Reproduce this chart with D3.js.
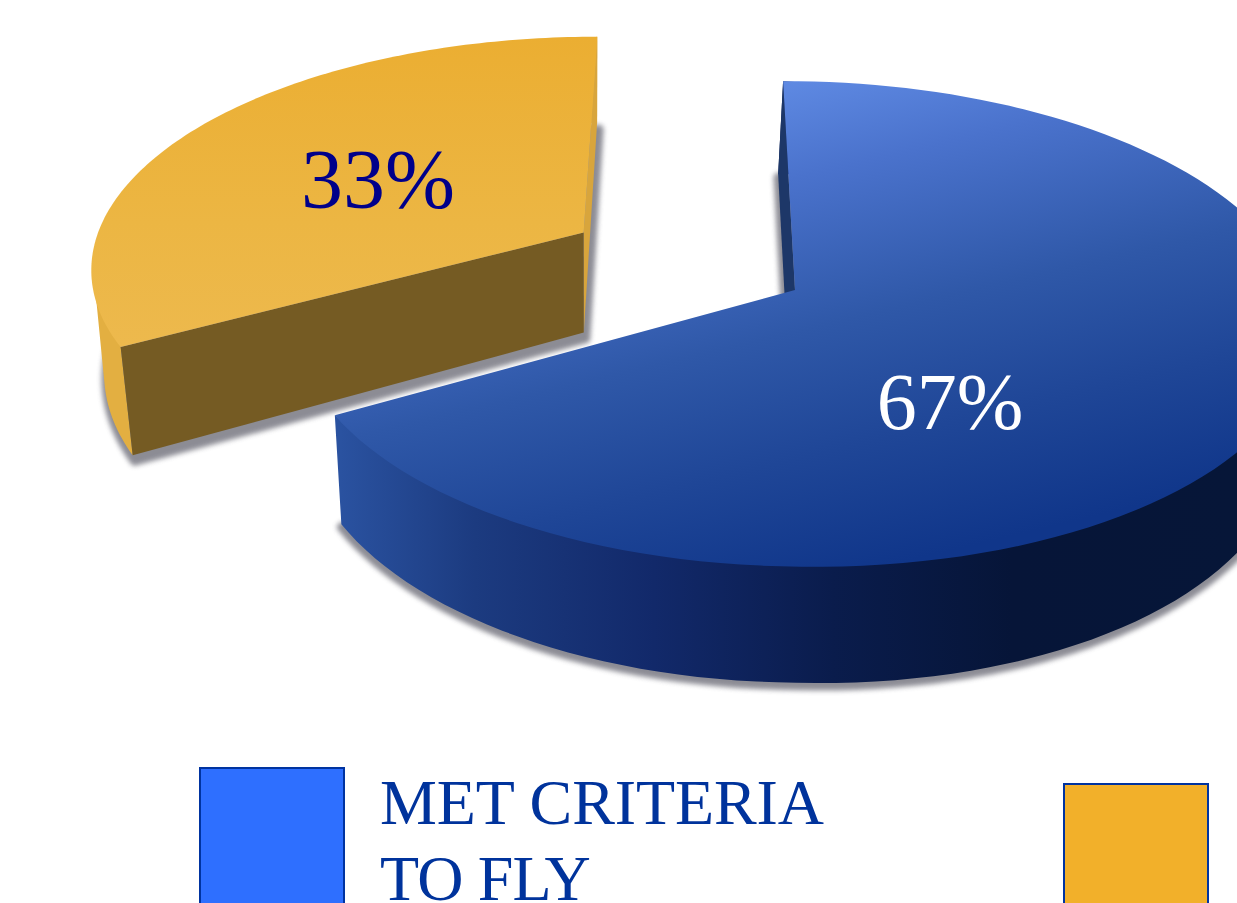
<!DOCTYPE html>
<html>
<head>
<meta charset="utf-8">
<script src="https://cdn.jsdelivr.net/npm/d3@7"></script>
<style>
  html, body { margin: 0; padding: 0; background: #fff; overflow: hidden; }
  svg { display: block; }
  text { font-family: "Liberation Serif", serif; }
</style>
</head>
<body>
<svg id="chart" width="1237" height="903"></svg>
<script>
// Share of flights by outcome
const categories = ["Met criteria to fly", "Did not meet criteria"];
const shares = [67, 33];
const legendLines = [["MET CRITERIA", "TO FLY"], []];

// Perspective model of the tilted disc: plane coords (u right, v toward viewer), z = extrusion
const view = { cx: 795, cy: 290, ry: 238, persp: 0.14, shear: 0.057, vanishX: 590, converge: 0.0256 };
const radiusX = [500.4, 500];
const sideways = [0.007, -0.003];
const explodeBy = [0, 0.5];
const leftDrop = [0.007, 0];
const liftY = [0, 1];
const wallSlope = [0.0475, 0.07];

function project(i, u, v, z) {
  const d = 1 - view.persp * v - sideways[i] * u;
  const x = view.cx + radiusX[i] * u / d + view.shear * (view.ry * v / d);
  const y = view.cy + view.ry * v / d + leftDrop[i] * Math.max(0, view.cx - x) + liftY[i];
  const h = 100 + wallSlope[i] * (y - 230) + 0.012 * Math.max(0, x - view.cx);
  return [x + z * view.converge * (view.vanishX - x), y + z * h];
}

const svg = d3.select("#chart");
const defs = svg.append("defs");

function gradient(id, x1, y1, x2, y2, stops) {
  const g = defs.append("linearGradient").attr("id", id).attr("gradientUnits", "userSpaceOnUse")
    .attr("x1", x1).attr("y1", y1).attr("x2", x2).attr("y2", y2);
  stops.forEach(([o, c]) => g.append("stop").attr("offset", o).attr("stop-color", c));
}

gradient("blueTop", 775, 81, 890, 565, [[0, "#5f8ae3"], [0.2, "#4a72cc"], [0.5, "#2f58a8"], [0.75, "#1f4697"], [1, "#10368a"]]);
gradient("blueSide", 340, 0, 1237, 0, [[0, "#2a52a0"], [0.15, "#1c3b80"], [0.35, "#12296a"], [0.55, "#0a1c4c"], [0.75, "#061538"], [1, "#061638"]]);
gradient("goldTop", 0, 38, 0, 345, [[0, "#ebae32"], [0.6, "#ecb643"], [1, "#edb94d"]]);

defs.append("filter").attr("id", "soft").attr("x", "-10%").attr("y", "-10%").attr("width", "120%").attr("height", "120%")
  .append("feGaussianBlur").attr("stdDeviation", 2.5);

const pie = d3.pie().sort(null).startAngle(0).endAngle(2 * Math.PI);
const slices = pie(shares);
const closed = d3.line().curve(d3.curveLinearClosed);

function planePoint(i, r, a) {
  const mid = (slices[i].startAngle + slices[i].endAngle) / 2;
  const e = explodeBy[i];
  return [e * Math.sin(mid) + r * Math.sin(a), -e * Math.cos(mid) - r * Math.cos(a)];
}

function rim(i, z, r = 1) {
  const s = slices[i];
  return d3.range(0, 121).map(t => {
    const a = s.startAngle + (s.endAngle - s.startAngle) * t / 120;
    const [u, v] = planePoint(i, t === 0 || t === 120 ? 1 : r, a);
    return project(i, u, v, z);
  });
}

function apex(i, z) {
  const [u, v] = planePoint(i, 0, 0);
  return project(i, u, v, z);
}

// The wall is one path of same-winding quads, so it fills as a seamless union
function wallPath(top, bottom) {
  return d3.range(top.length - 1).map(t => {
    const quad = [top[t], top[t + 1], bottom[t + 1], bottom[t]];
    return closed(d3.polygonArea(quad) < 0 ? quad.reverse() : quad);
  }).join("");
}

const looks = [
  { top: "url(#blueTop)", wall: "url(#blueSide)", shadowShift: [0, 3] },
  { top: "url(#goldTop)", wall: "#e3af41", shadowShift: [2, 6] }
];

// Back to front: gold wedge first, then blue wedge
[1, 0].forEach(i => {
  const g = svg.append("g").attr("class", "slice").datum(slices[i]);
  const top = rim(i, 0), bottom = rim(i, 1);

  // Soft shadow spreading out from the base
  g.append("path")
    .attr("d", closed([apex(i, 1), ...bottom]))
    .attr("transform", `translate(${looks[i].shadowShift})`)
    .attr("fill", "#70707a")
    .attr("stroke", "#70707a")
    .attr("stroke-width", 9)
    .attr("stroke-linejoin", "round")
    .attr("opacity", 0.8)
    .attr("filter", "url(#soft)");

  // Curved outer wall, tucked just inside the top edge so no seam shows
  g.append("path")
    .attr("d", wallPath(rim(i, 0, 0.995), bottom))
    .attr("fill", looks[i].wall);

  // Cut faces seen from this viewpoint
  if (i === 0) {
    g.append("path")
      .attr("d", closed([top[0], apex(i, 0), apex(i, 1), bottom[0]]))
      .attr("fill", "#1d3768");
  } else {
    g.append("path")
      .attr("d", closed([top[120], apex(i, 0), apex(i, 1), bottom[120]]))
      .attr("fill", "#d8a53c");
    g.append("path")
      .attr("d", closed([top[0], apex(i, 0), apex(i, 1), bottom[0]]))
      .attr("fill", "#755b23");
  }

  // Top surface
  g.append("path")
    .attr("d", closed([apex(i, 0), ...top]))
    .attr("fill", looks[i].top);
});

// Value labels
const labelSpots = [
  { x: 950, y: 429, size: 80, fill: "#ffffff" },
  { x: 378, y: 208, size: 84, fill: "#00008a" }
];
svg.append("g").selectAll("text").data(shares).join("text")
  .attr("x", (d, i) => labelSpots[i].x)
  .attr("y", (d, i) => labelSpots[i].y)
  .attr("text-anchor", "middle")
  .attr("font-size", (d, i) => labelSpots[i].size)
  .attr("fill", (d, i) => labelSpots[i].fill)
  .text(d => d + "%");

// Legend
const legendSpots = [
  { x: 200, y: 768, fill: "#2e6fff" },
  { x: 1064, y: 784, fill: "#f2b02a" }
];
const lineTracking = [-0.1, -0.8];
const legend = svg.append("g").selectAll("g").data(categories).join("g")
  .attr("transform", (d, i) => `translate(${legendSpots[i].x},${legendSpots[i].y})`);
legend.append("rect")
  .attr("width", 144).attr("height", 170)
  .attr("fill", (d, i) => legendSpots[i].fill)
  .attr("stroke", "#0033a0").attr("stroke-width", 2);
legend.selectAll("text").data((d, i) => legendLines[i]).join("text")
  .attr("x", 180)
  .attr("y", (d, j) => 56 + j * 76)
  .attr("font-size", 64)
  .attr("fill", "#00339c")
  .attr("letter-spacing", (d, j) => lineTracking[j])
  .text(d => d);
</script>
</body>
</html>
